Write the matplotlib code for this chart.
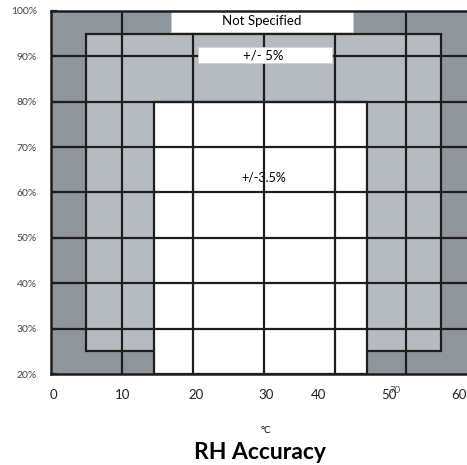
import matplotlib
matplotlib.use("Agg")
import matplotlib.pyplot as plt
from matplotlib.patches import Rectangle

plt.rcParams['font.family'] = ['Lato', 'DejaVu Sans']

# temperature (°C) and relative humidity (%) extents of the accuracy zones
x_max = 58.6
outer_zone = (0, 20, x_max, 100)        # not specified
zone_5 = (5, 25, 55, 95)                # +/- 5%
zone_35 = (14.5, 20, 44.5, 80)          # +/- 3.5%

grid_t = [10, 20, 30, 40, 50]
grid_rh = [30, 40, 50, 60, 70, 80, 90]

# tick labels (positions as drawn in the original picture)
xtick_pos = [0.4, 10.1, 20.5, 30.3, 37.7, 47.6, 57.5]
xtick_labels = ["0", "10", "20", "30", "40", "50", "60"]
ytick_pos = [20, 30, 40, 50, 60, 70, 80, 90, 100]
ytick_labels = ["20%", "30%", "40%", "50%", "60%", "70%", "80%", "90%", "100%"]

# label boxes: (x0, y0, x1, y1, text, text_x, text_y)
not_spec_box = (16.9, 95.4, 42.5, 100, "Not Specified", 29.7, 97.8)
pm5_box = (20.7, 88.5, 39.6, 92.1, "+/- 5%", 29.9, 90.1)
pm35_label = ("+/-3.5%", 30.0, 63.2)

dark = "#8f969c"
light = "#b5bbc1"
ink = "#1e1e1e"

fig = plt.figure(figsize=(4.67, 4.65), dpi=100)
ax = fig.add_axes([51 / 467, 91 / 465, 416 / 467, 363 / 465])
ax.set_xlim(0, x_max)
ax.set_ylim(20, 100)


def rect(zone, face, edge="none", lw=0, z=1):
    x0, y0, x1, y1 = zone
    ax.add_patch(Rectangle((x0, y0), x1 - x0, y1 - y0, facecolor=face,
                           edgecolor=edge, linewidth=lw, zorder=z))


rect(outer_zone, dark)
rect(zone_5, light, ink, 1.6, 2)
rect(zone_35, "white", ink, 1.6, 3)

for t in grid_t:
    ax.axvline(t, color=ink, lw=1.6, zorder=4)
for rh in grid_rh:
    ax.axhline(rh, color=ink, lw=1.6, zorder=4)

for x0, y0, x1, y1, txt, tx, ty in [not_spec_box, pm5_box]:
    rect((x0, y0, x1, y1), "white", "#d0d0d0", 0.5, 5)
    ax.text(tx, ty, txt, ha="center", va="center", fontsize=9.5, color="black", zorder=6)

ax.text(pm35_label[1], pm35_label[2], pm35_label[0], ha="center", va="center",
        fontsize=9, color="black", zorder=3.5)

ax.set_xticks(xtick_pos, xtick_labels)
ax.set_yticks(ytick_pos, ytick_labels)
ax.tick_params(axis="x", length=0, pad=11, labelsize=9.5, labelcolor="#222222")
ax.tick_params(axis="y", direction="in", length=4, width=1.6, color=ink,
               pad=10, labelsize=7.5, labelcolor="#444444")
for side in ["left", "bottom", "top"]:
    ax.spines[side].set_linewidth(1.8)
    ax.spines[side].set_color(ink)
    ax.spines[side].set_zorder(7)
ax.spines["right"].set_visible(False)

# stray overlapping label in the original
ax.text(48.5, 20 - 17 / 4.54, "70", ha="center", va="center", fontsize=7,
        color="#555555", clip_on=False)

fig.text(266 / 467, 1 - 430 / 465, "°C", ha="center", va="center", fontsize=7)
fig.text(260 / 467, 1 - 452 / 465, "RH Accuracy", ha="center", va="center",
         fontsize=16.5, fontweight="bold")

fig.savefig("out.png", dpi=100)
